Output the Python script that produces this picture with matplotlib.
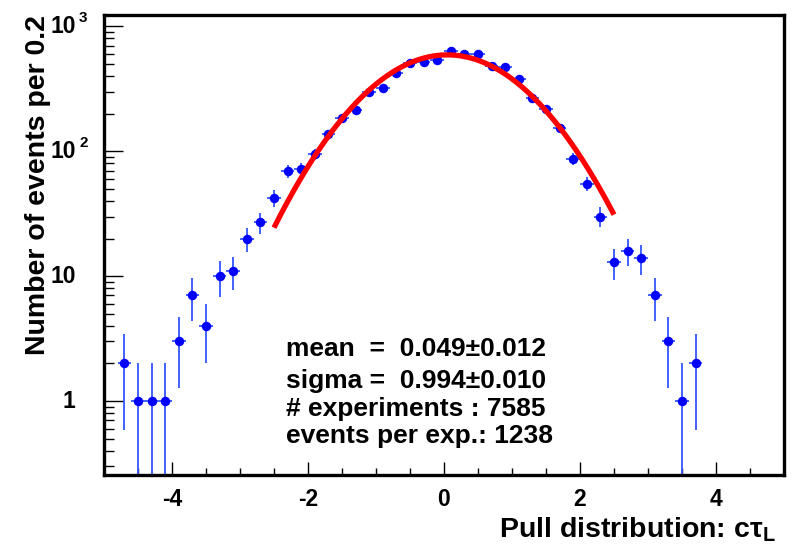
import numpy as np
import matplotlib
matplotlib.use("Agg")
import matplotlib.pyplot as plt
from matplotlib.ticker import FixedLocator, MultipleLocator, LogLocator, NullFormatter

plt.rcParams['font.family'] = ['Liberation Sans', 'DejaVu Sans']
plt.rcParams['font.weight'] = 'bold'
plt.rcParams['mathtext.fontset'] = 'custom'
plt.rcParams['mathtext.rm'] = 'Liberation Sans:bold'
plt.rcParams['mathtext.it'] = 'Liberation Sans:bold'
plt.rcParams['mathtext.bf'] = 'Liberation Sans:bold'

# ---- data ----
bin_centers = [-4.7, -4.5, -4.3, -4.1, -3.9, -3.7, -3.5, -3.3, -3.1, -2.9, -2.7,
               -2.5, -2.3, -2.1, -1.9, -1.7, -1.5, -1.3, -1.1, -0.9, -0.7, -0.5,
               -0.3, -0.1, 0.1, 0.3, 0.5, 0.7, 0.9, 1.1, 1.3, 1.5, 1.7, 1.9,
               2.1, 2.3, 2.5, 2.7, 2.9, 3.1, 3.3, 3.5, 3.7]
counts = [2, 1, 1, 1, 3, 7, 4, 10, 11, 20, 27,
          42, 69, 72, 95, 137, 186, 213, 296, 323, 421, 512,
          518, 532, 631, 594, 604, 479, 472, 379, 267, 216, 153, 87,
          55, 30, 13, 16, 14, 7, 3, 1, 2]
bin_half_width = 0.1

fit_amplitude = 590.0
fit_mean = 0.049
fit_sigma = 1.01
fit_range = (-2.5, 2.5)

x_ticks = [-4, -2, 0, 2, 4]
x_tick_labels = ['-4', '-2', '0', '2', '4']
y_ticks = [1, 10, 100, 1000]
y_tick_base = ['1', '10', '10', '10']
y_tick_sup = ['', '', '2', '3']

stats_lines = ["mean  =  0.049\u00b10.012",
               "sigma =  0.994\u00b10.010",
               "# experiments : 7585",
               "events per exp.: 1238"]

W, H = 797, 546
fig = plt.figure(figsize=(W / 100, H / 100), dpi=100)
ax = fig.add_axes([104 / W, 1 - 475 / H, 680 / W, 460 / H])

x = np.array(bin_centers)
y = np.array(counts, dtype=float)
err = np.sqrt(y)
lower = np.minimum(err, y - 1e-6)

ax.errorbar(x, y, yerr=[lower, err], xerr=bin_half_width, fmt='o',
            color='#0000ff', ecolor='#3355ff', ms=5.8, elinewidth=1.3,
            capsize=0, zorder=2)

xf = np.linspace(fit_range[0], fit_range[1], 400)
yf = fit_amplitude * np.exp(-0.5 * ((xf - fit_mean) / fit_sigma) ** 2)
ax.plot(xf, yf, color='#ff0000', lw=3.8, solid_capstyle='butt', zorder=3)

ax.set_yscale('log')
ax.set_xlim(-5, 5)
ax.set_ylim(0.256, 1230)

ax.xaxis.set_major_locator(FixedLocator(x_ticks))
ax.set_xticklabels(x_tick_labels)
ax.xaxis.set_minor_locator(MultipleLocator(0.5))
ax.yaxis.set_major_locator(FixedLocator(y_ticks))
ax.yaxis.set_minor_locator(LogLocator(base=10, subs=np.arange(2, 10)))
ax.yaxis.set_major_formatter(NullFormatter())
ax.yaxis.set_minor_formatter(NullFormatter())

ax.tick_params(which='both', direction='in', top=False, right=False)
ax.tick_params(axis='y', which='major', length=14, width=1.0)
ax.tick_params(axis='y', which='minor', length=7, width=1.0)
ax.tick_params(axis='x', which='major', length=9.5, width=1.0, labelsize=16.5, pad=9)
ax.tick_params(axis='x', which='minor', length=5, width=1.0)
for s in ax.spines.values():
    s.set_linewidth(2.4)

# y tick labels (ROOT style, superscript exponents)
for v, b, sp in zip(y_ticks, y_tick_base, y_tick_sup):
    ax.annotate(b, xy=(0, v), xycoords=('axes fraction', 'data'),
                xytext=(-20.5, 0), textcoords='offset points',
                ha='right', va='center', fontsize=16.5, fontweight='bold')
    if sp:
        ax.annotate(sp, xy=(0, v), xycoords=('axes fraction', 'data'),
                    xytext=(-18, 6), textcoords='offset points',
                    ha='left', va='center', fontsize=11, fontweight='bold')

fig.text(38 / W, 1 - 15 / H, 'Number of events per 0.2', rotation=90,
         ha='center', va='top', fontsize=20.5, fontweight='bold')
fig.text(776 / W, 1 - 537 / H, 'Pull distribution: c\u03c4$_{\\mathrm{L}}$',
         ha='right', va='baseline', fontsize=20.5, fontweight='bold')

baselines = [356, 388, 416, 443]
for line, b in zip(stats_lines, baselines):
    fig.text(286 / W, 1 - b / H, line, ha='left', va='baseline',
             fontsize=19, fontweight='bold')

fig.savefig('out.png', dpi=100)
